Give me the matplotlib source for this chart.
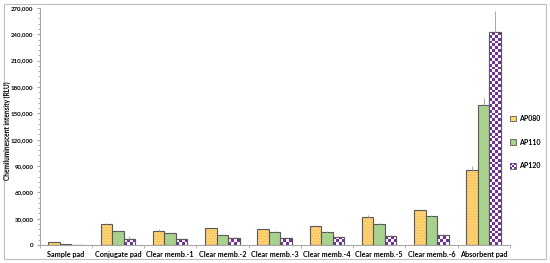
import numpy as np
import matplotlib
matplotlib.use("Agg")
import matplotlib.pyplot as plt
from matplotlib.patches import Rectangle
from matplotlib.legend_handler import HandlerBase
from matplotlib.ticker import FuncFormatter, MultipleLocator, AutoMinorLocator

categories = ["Sample pad", "Conjugate pad", "Clear memb.-1", "Clear memb.-2", "Clear memb.-3",
              "Clear memb.-4", "Clear memb.-5", "Clear memb.-6", "Absorbent pad"]
series = ["AP080", "AP110", "AP120"]
ap080 = [3400, 24000, 16500, 19000, 18000, 21500, 32000, 40000, 86000]
ap110 = [800, 16500, 14000, 11500, 15000, 15000, 24500, 33000, 160000]
ap120 = [500, 7500, 6500, 8500, 8000, 9000, 10500, 12000, 242000]
err080 = [300, 1000, 1500, 800, 800, 1000, 2000, 1200, 3500]
err110 = [100, 800, 800, 600, 600, 700, 1000, 1000, 8000]
err120 = [100, 3000, 800, 600, 600, 700, 800, 800, 25000]

yellow = "#FFD966"
dot = "#F4B183"
green = "#A9D18E"
purple = "#7030A0"
edge = "#595959"

plt.rcParams['font.family'] = ['Lato', 'DejaVu Sans']
plt.rcParams['font.weight'] = 'bold'
plt.rcParams['hatch.linewidth'] = 0.8

fig = plt.figure(figsize=(5.5, 2.63), dpi=100)
ax = fig.add_axes([0.072, 0.068, 0.855, 0.902])

x = np.arange(len(categories))
w = 0.22

# AP080: yellow with orange dots, outline drawn separately so the hatch keeps its own colour
ax.bar(x - w, ap080, w, color=yellow, edgecolor=dot, hatch="......", linewidth=0, zorder=2)
ax.bar(x - w, ap080, w, facecolor="none", edgecolor=edge, linewidth=0.8, zorder=3)
ax.bar(x, ap110, w, color=green, edgecolor=edge, linewidth=0.8, zorder=3)
bars120 = ax.bar(x + w, ap120, w, color="white", edgecolor=edge, linewidth=0.8, zorder=2)

ax.set_xlim(-0.5, len(categories) - 0.5)
ax.set_ylim(0, 270000)

# checkerboard fill for AP120
fig.canvas.draw()
px_x = ax.transData.transform((1, 0))[0] - ax.transData.transform((0, 0))[0]
px_y = ax.transData.transform((0, 1))[1] - ax.transData.transform((0, 0))[1]
ncol = 4
cell_px = w / ncol * px_x
cell_h = cell_px / px_y
for b in bars120:
    x0 = b.get_x()
    h = b.get_height()
    nrow = max(1, int(np.ceil(h / cell_h)))
    grid = (np.add.outer(np.arange(nrow), np.arange(ncol)) % 2).astype(float)
    img = ax.imshow(grid, cmap=matplotlib.colors.ListedColormap([purple, "white"]),
                    extent=(x0, x0 + w, 0, nrow * cell_h), origin="lower",
                    interpolation="nearest", aspect="auto", zorder=2.5)
    img.set_clip_path(b)
ax.bar(x + w, ap120, w, facecolor="none", edgecolor=edge, linewidth=0.8, zorder=3)

for off, vals, errs in [(-w, ap080, err080), (0, ap110, err110), (w, ap120, err120)]:
    ax.errorbar(x + off, vals, yerr=[np.zeros(len(errs)), errs], fmt="none",
                ecolor="#A6A6A6", elinewidth=0.7, capsize=0, zorder=4)

ax.set_xlim(-0.5, len(categories) - 0.5)
ax.set_ylim(0, 270000)

ax.yaxis.set_major_locator(MultipleLocator(30000))
ax.yaxis.set_minor_locator(AutoMinorLocator(5))
ax.yaxis.set_major_formatter(FuncFormatter(lambda v, p: f"{int(v):,}"))
ax.set_xticks(x)
ax.set_xticklabels(categories)
ax.set_xticks(np.arange(len(categories) + 1) - 0.5, minor=True)
ax.tick_params(axis="x", which="major", length=0, labelsize=5.2, pad=4)
ax.tick_params(axis="x", which="minor", length=2.5, color="#A6A6A6")
ax.tick_params(axis="y", which="major", length=2.5, labelsize=4.4, color="#A6A6A6", pad=2)
ax.tick_params(axis="y", which="minor", length=1.5, color="#A6A6A6")
for s in ["top", "right"]:
    ax.spines[s].set_visible(False)
for s in ["left", "bottom"]:
    ax.spines[s].set_color("#A6A6A6")
    ax.spines[s].set_linewidth(0.8)
# y label placed directly so its centre sits where the reference has it
fig.text(7.5 / 550, 1 - 131 / 263, "Chemiluminescent intensity (RLU)", rotation=90,
         ha="center", va="center", fontsize=4.7, fontweight="bold")


class CheckerHandler(HandlerBase):
    def create_artists(self, legend, orig_handle, xdescent, ydescent, width, height, fontsize, trans):
        s = height
        x0 = (width - s) / 2 - xdescent
        y0 = -ydescent
        arts = [Rectangle((x0, y0), s, s, facecolor="white", edgecolor=edge, lw=0.6, transform=trans)]
        n = 3
        c = s / n
        for i in range(n):
            for j in range(n):
                if (i + j) % 2 == 0:
                    arts.append(Rectangle((x0 + i * c, y0 + j * c), c, c, facecolor=purple,
                                          edgecolor="none", transform=trans))
        return arts


class BoxHandler(HandlerBase):
    def create_artists(self, legend, orig_handle, xdescent, ydescent, width, height, fontsize, trans):
        s = height
        x0 = (width - s) / 2 - xdescent
        return [Rectangle((x0, -ydescent), s, s, facecolor=orig_handle.get_facecolor(),
                          edgecolor=edge, lw=0.6, transform=trans)]


h080 = Rectangle((0, 0), 1, 1, facecolor=yellow)
h110 = Rectangle((0, 0), 1, 1, facecolor=green)
h120 = Rectangle((0, 0), 1, 1, facecolor=purple)
fig.legend([h080, h110, h120], series, loc="center left", bbox_to_anchor=(0.918, 0.46),
           frameon=False, prop={"size": 5.0, "weight": "bold"}, handlelength=0.9, handleheight=0.9,
           handletextpad=0.4, labelspacing=2.4, borderpad=0.2,
           handler_map={h080: BoxHandler(), h110: BoxHandler(), h120: CheckerHandler()})

fig.patches.append(Rectangle((0.007, 0.015), 0.986, 0.97, transform=fig.transFigure,
                             fill=False, edgecolor="#BFBFBF", linewidth=0.8))

fig.savefig("out.png", dpi=100)
